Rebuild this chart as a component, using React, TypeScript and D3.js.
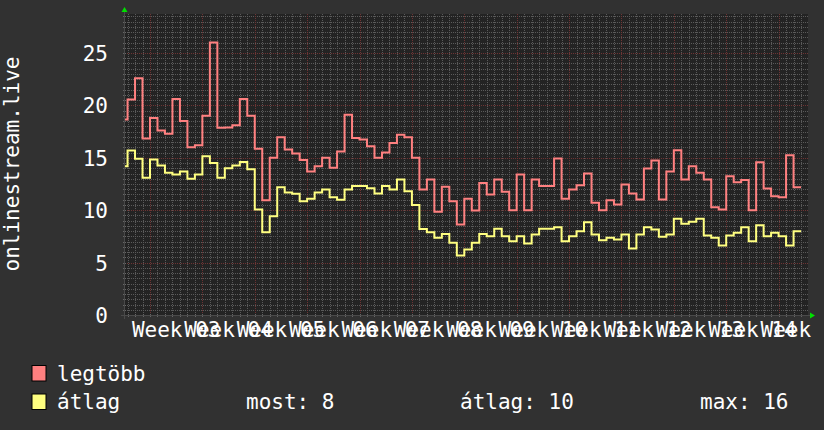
import React from 'react';
import * as d3 from 'd3';

// legtöbb (maximum) series, one value per day; first value starts 4 days before week 03 starts
const maxSeries = [
  18.65, 20.56, 22.6, 16.84, 18.8, 17.6, 17.3, 20.6, 18.5, 16.0, 16.2, 19.0, 26.0, 17.86, 17.9, 18.1,
  20.6, 19.0, 15.86, 10.95, 15.0, 16.97, 15.8, 15.4, 14.8, 13.7, 14.2, 15.0, 14.05, 15.6, 19.1, 16.9,
  16.75, 16.1, 15.0, 15.5, 16.4, 17.2, 16.97, 15.0, 11.97, 12.93, 9.84, 12.23, 10.86, 8.64, 11.09, 9.97,
  12.6, 11.5, 12.93, 11.75, 10.0, 13.4, 10.0, 12.93, 12.3, 12.3, 14.93, 11.09, 11.98, 12.39, 13.5, 10.7,
  10.0, 10.96, 10.54, 12.45, 11.6, 11.02, 13.98, 14.74, 11.02, 13.7, 15.73, 12.93, 14.2, 13.57, 12.93, 10.29,
  10.07, 13.25, 12.67, 12.87, 10.0, 14.58, 12.07, 11.34, 11.24, 15.25, 12.2,
];

// átlag (average) series
const avgSeries = [
  14.2, 15.7, 14.9, 13.1, 14.84, 14.26, 13.57, 13.4, 13.7, 13.0, 13.4, 15.15, 14.5, 13.1, 14.0, 14.26,
  14.6, 13.9, 10.07, 7.9, 9.43, 12.2, 11.7, 11.56, 10.86, 11.1, 11.7, 11.98, 11.24, 11.0, 11.98, 12.3,
  12.3, 12.1, 11.6, 12.3, 11.98, 12.93, 11.8, 10.5, 8.2, 7.9, 7.36, 7.74, 6.89, 5.68, 6.25, 6.89,
  7.74, 7.52, 8.22, 7.52, 7.04, 7.52, 6.82, 7.68, 8.22, 8.22, 8.38, 7.04, 7.52, 8.0, 8.86, 7.68,
  7.14, 7.36, 7.2, 7.68, 6.35, 7.68, 8.38, 8.16, 7.46, 7.68, 9.18, 8.7, 8.89, 9.18, 7.59, 7.36,
  6.63, 7.59, 7.84, 8.38, 7.04, 8.57, 7.52, 7.84, 7.52, 6.63, 8.0,
];

const weekLabels = [
  'Week 03', 'Week 04', 'Week 05', 'Week 06', 'Week 07', 'Week 08', 'Week 09',
  'Week 10', 'Week 11', 'Week 12', 'Week 13', 'Week 14', 'Week 15',
];
const yTicks = [0, 5, 10, 15, 20, 25];
const seriesNames = ['legtöbb', 'átlag'];
const seriesColors = ['#ff8080', '#ffff80'];
const statLabels = ['most: 8', 'átlag: 10', 'max: 16'];
const yTitle = 'onlinestream.live';

const W = 824;
const H = 430;
const L = 125;
const R = 808;
const T = 14;
const B = 315;
const FONT = '"DejaVu Sans Mono", monospace';

export default function App() {
  const x = d3.scaleLinear().domain([-3.34, 87.93]).range([L, R]);
  const y = d3.scaleLinear().domain([0, 28.72]).range([B, T]);

  const firstDay = -4;
  const mkPts = (vals: number[]) => {
    const pts: [number, number][] = vals.map((v, i) => [firstDay + i, v]);
    pts.push([firstDay + vals.length, vals[vals.length - 1]]);
    return pts;
  };
  const line = d3
    .line<[number, number]>()
    .x((d) => x(d[0]))
    .y((d) => y(d[1]))
    .curve(d3.curveStepAfter);

  const minorX = d3.range(-3, 88).filter((d) => d % 7 !== 0);
  const majorX = d3.range(0, 88, 7);
  const minorY = d3.range(0.5, 28.7, 0.5).filter((v) => v % 5 !== 0);
  const majorY = [5, 10, 15, 20, 25];

  const px = (v: number) => Math.round(v) + 0.5;

  return (
    <svg
      width={W}
      height={H}
      style={{ position: 'absolute', left: 0, top: 0, display: 'block' }}
      fontFamily={FONT}
    >
      <defs>
        <clipPath id="plotclip">
          <rect x={L} y={T} width={R - L} height={B - T} />
        </clipPath>
      </defs>
      <rect x={0} y={0} width={W} height={H} fill="#313131" />
      <rect x={L} y={T} width={R - L} height={B - T} fill="#232323" />

      {/* minor grid */}
      <g stroke="#5a5a5a" strokeWidth={1} strokeDasharray="1 1">
        {minorX.map((d) => (
          <line key={'mx' + d} x1={px(x(d))} x2={px(x(d))} y1={T} y2={B} />
        ))}
        {minorY.map((v) => (
          <line key={'my' + v} x1={L} x2={R} y1={px(y(v))} y2={px(y(v))} />
        ))}
      </g>
      {/* major grid */}
      <g stroke="#6e3434" strokeWidth={1} strokeDasharray="1 1">
        {majorX.map((d) => (
          <line key={'Mx' + d} x1={px(x(d))} x2={px(x(d))} y1={T} y2={B} />
        ))}
        {majorY.map((v) => (
          <line key={'My' + v} x1={L} x2={R} y1={px(y(v))} y2={px(y(v))} />
        ))}
      </g>
      {/* tick marks on axes */}
      <g stroke="#666666" strokeWidth={1}>
        {minorY.concat(majorY).map((v) => (
          <line key={'ty' + v} x1={L - 2} x2={L + 1} y1={px(y(v))} y2={px(y(v))} />
        ))}
        {minorX.concat(majorX).map((d) => (
          <line key={'tx' + d} x1={px(x(d))} x2={px(x(d))} y1={B - 1} y2={B + 2} />
        ))}
      </g>
      {/* axes */}
      <g stroke="#4a4a4a" strokeWidth={1}>
        <line x1={L - 4} x2={R + 4} y1={B + 0.5} y2={B + 0.5} />
        <line x1={L - 0.5} x2={L - 0.5} y1={T - 4} y2={B + 4} />
      </g>
      <polygon points={`${L - 3.5},${T - 2} ${L + 2.5},${T - 2} ${L - 0.5},${T - 7}`} fill="#00e000" />
      <polygon points={`${R + 2},${B - 2.5} ${R + 2},${B + 3.5} ${R + 7},${B + 0.5}`} fill="#00e000" />

      {/* series */}
      <g clipPath="url(#plotclip)" fill="none" strokeWidth={2}>
        <path d={line(mkPts(maxSeries)) || ''} stroke={seriesColors[0]} />
        <path d={line(mkPts(avgSeries)) || ''} stroke={seriesColors[1]} />
      </g>

      {/* y tick labels */}
      <g fill="#ffffff" fontSize={21} textAnchor="end">
        {yTicks.map((v) => (
          <text key={'yl' + v} x={108} y={y(v) + 8}>
            {v}
          </text>
        ))}
      </g>
      {/* x labels */}
      <g fill="#ffffff" fontSize={21} textAnchor="middle">
        {weekLabels.map((lab, k) => (
          <text key={lab} x={x(3.5 + 7 * k)} y={337}>
            {lab}
          </text>
        ))}
      </g>
      {/* y title */}
      <text
        fill="#ffffff"
        fontSize={21}
        textAnchor="middle"
        transform={`translate(19,164) rotate(-90)`}
      >
        {yTitle}
      </text>

      {/* legend */}
      {seriesNames.map((name, i) => (
        <g key={name}>
          <rect
            x={32}
            y={365.5 + i * 28.5}
            width={14}
            height={15.5}
            fill={seriesColors[i]}
            stroke="#000"
            strokeWidth={1}
          />
          <text x={57} y={381 + i * 27.5} fill="#ffffff" fontSize={21}>
            {name}
          </text>
        </g>
      ))}
      <g fill="#ffffff" fontSize={21}>
        <text x={246} y={408.5}>{statLabels[0]}</text>
        <text x={460} y={408.5}>{statLabels[1]}</text>
        <text x={700} y={408.5}>{statLabels[2]}</text>
      </g>
    </svg>
  );
}
